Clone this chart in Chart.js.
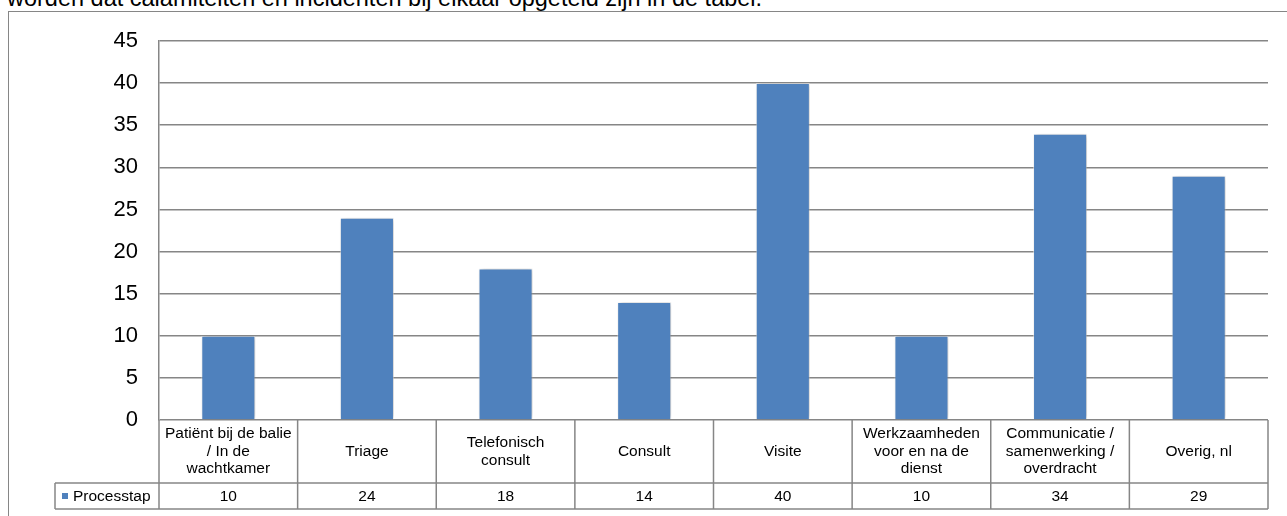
<!DOCTYPE html>
<html>
<head>
<meta charset="utf-8">
<script src="https://cdn.jsdelivr.net/npm/chart.js@4"></script>
<style>
  html, body { margin: 0; padding: 0; background: #fff; overflow: hidden; }
  body { width: 1287px; height: 516px; position: relative; font-family: "Liberation Sans", Arial, sans-serif; }
  .intro { position: absolute; left: 7px; top: -14px; font-size: 23.5px; line-height: 24px; white-space: nowrap; color: #000; }
  .frame { position: absolute; left: 8px; top: 11px; width: 1320px; height: 600px; border: 1.5px solid #868686; box-sizing: border-box; }
  #wrap { position: absolute; left: 0; top: 0; width: 1287px; height: 516px; }
</style>
</head>
<body>
<div class="intro">worden dat calamiteiten en incidenten bij elkaar opgeteld zijn in de tabel.</div>
<div class="frame"></div>
<div id="wrap"><canvas id="processChart"></canvas></div>
<script>
// categories, one array of text lines per column
const categories = [
    ['Patiënt bij de balie', '/ In de', 'wachtkamer'],
    ['Triage'],
    ['Telefonisch', 'consult'],
    ['Consult'],
    ['Visite'],
    ['Werkzaamheden', 'voor en na de', 'dienst'],
    ['Communicatie /', 'samenwerking /', 'overdracht'],
    ['Overig, nl']
];
const seriesName = 'Processtap';
const processtapValues = [10, 24, 18, 14, 40, 10, 34, 29];
const yMax = 45;
const yStep = 5;

const barBlue = '#4f81bd';
const lineGrey = '#868686';
const font = '"Liberation Sans", Arial, sans-serif';

// soft shadow behind the bars
const barShadow = {
    id: 'barShadow',
    beforeDatasetsDraw(chart) {
        const ctx = chart.ctx;
        ctx.save();
        ctx.shadowColor = 'rgba(0,0,0,0.28)';
        ctx.shadowBlur = 5;
        ctx.shadowOffsetX = 1.5;
        ctx.shadowOffsetY = 0;
    },
    afterDatasetsDraw(chart) {
        chart.ctx.restore();
    }
};

// data table under the plot: category names and values
const dataTable = {
    id: 'dataTable',
    afterDraw(chart) {
        const ctx = chart.ctx;
        const area = chart.chartArea;
        const xs = chart.scales.x;
        const colW = (area.right - area.left) / categories.length;
        const headTop = area.bottom;
        const rowTop = headTop + 63;
        const rowBottom = rowTop + 26;
        const legendLeft = 55;

        ctx.save();
        ctx.strokeStyle = lineGrey;
        ctx.lineWidth = 1.5;
        ctx.beginPath();
        // horizontal rules
        ctx.moveTo(legendLeft, rowTop); ctx.lineTo(area.right, rowTop);
        ctx.moveTo(legendLeft, rowBottom); ctx.lineTo(area.right, rowBottom);
        // legend cell left edge
        ctx.moveTo(legendLeft, rowTop); ctx.lineTo(legendLeft, rowBottom);
        // column separators
        for (let i = 0; i <= categories.length; i++) {
            const x = area.left + i * colW;
            ctx.moveTo(x, headTop); ctx.lineTo(x, rowBottom);
        }
        ctx.stroke();

        ctx.fillStyle = '#000';
        ctx.textAlign = 'center';
        ctx.textBaseline = 'middle';
        ctx.font = '15.5px ' + font;
        const lineH = 17.5;
        categories.forEach((lines, i) => {
            const cx = xs.getPixelForValue(i);
            const mid = (headTop + rowTop) / 2;
            const start = mid - (lines.length - 1) * lineH / 2;
            lines.forEach((t, j) => ctx.fillText(t, cx, start + j * lineH));
            ctx.fillText(String(processtapValues[i]), cx, (rowTop + rowBottom) / 2 + 1);
        });

        // legend key
        ctx.fillStyle = barBlue;
        ctx.fillRect(62, (rowTop + rowBottom) / 2 - 3, 6, 6);
        ctx.fillStyle = '#000';
        ctx.textAlign = 'left';
        ctx.fillText(seriesName, 73, (rowTop + rowBottom) / 2 + 1);
        ctx.restore();
    }
};

new Chart(document.getElementById('processChart'), {
    type: 'bar',
    data: {
        labels: categories,
        datasets: [{
            label: seriesName,
            data: processtapValues,
            backgroundColor: barBlue,
            borderColor: 'rgba(255,255,255,0.5)',
            borderWidth: 1,
            categoryPercentage: 1,
            barPercentage: 0.39
        }]
    },
    options: {
        responsive: true,
        maintainAspectRatio: false,
        animation: false,
        layout: { padding: { left: 0, right: 19, top: 41, bottom: 96 } },
        plugins: {
            legend: { display: false },
            tooltip: { enabled: false }
        },
        scales: {
            x: { display: false },
            y: {
                min: 0,
                max: yMax,
                afterFit(scale) { scale.width = 159; },
                ticks: {
                    stepSize: yStep,
                    padding: 21,
                    color: '#000',
                    font: { family: font, size: 22 }
                },
                grid: { color: lineGrey, lineWidth: 1.5, drawTicks: false },
                border: { display: true, color: lineGrey, width: 1.5 }
            }
        }
    },
    plugins: [barShadow, dataTable]
});
</script>
</body>
</html>
